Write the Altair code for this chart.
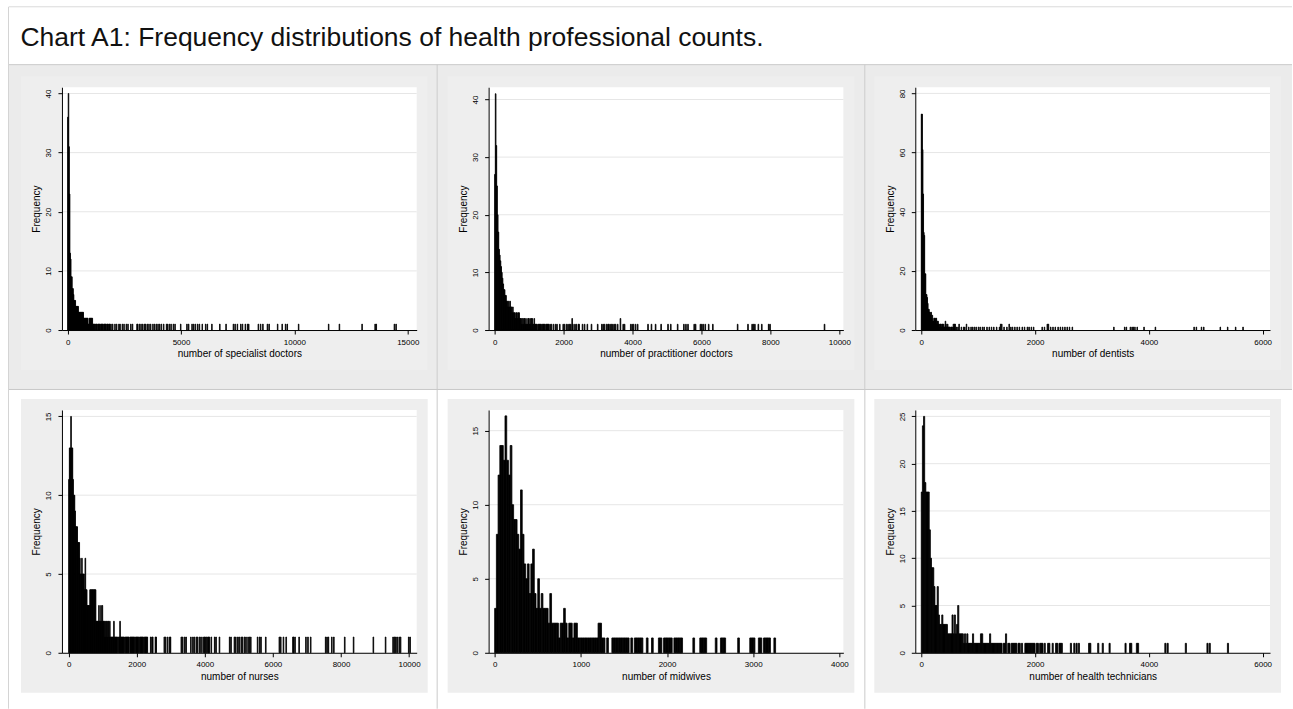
import altair as alt
import pandas as pd

FONT = "Liberation Sans"
TITLE = "Chart A1: Frequency distributions of health professional counts."

# ---------------- data ----------------
# specialist doctors: bins of 25
SPEC_TITLE = "number of specialist doctors"
SPEC_BIN = 25
SPEC_HEAD = [36, 40, 31, 23, 13, 12, 9, 9, 7, 7, 6, 5, 5, 5, 4, 4, 4, 4, 4, 3,
             3, 3, 3, 3, 3, 3, 3, 3, 2, 2, 2, 2, 2, 2, 2, 2, 1, 1, 2, 2,
             2, 2, 2, 2, 1, 1, 1, 1, 0, 1, 1, 1, 0, 1, 1, 1, 1, 0, 1, 1,
             1, 1, 1, 0, 1, 1, 1, 1, 0, 1, 1, 1, 0, 1, 1]
SPEC_TAIL_X = [1900, 1975, 2075, 2150, 2250, 2300, 2400, 2475, 2575, 2650, 2775, 2850,
               3050, 3075, 3150, 3225, 3300, 3375, 3425, 3500, 3575, 3650, 3750, 3825,
               3900, 3975, 4050, 4125, 4225, 4350, 4400, 4475, 4550, 4650, 4725, 4975,
               5250, 5325, 5475, 5550, 5625, 5725, 5800, 5925, 6075, 6150, 6350, 6700,
               6975, 7300, 7375, 7475, 7625, 7700, 7825, 7925, 7975, 8400, 8500, 8600,
               8800, 8875, 9250, 9450, 9600, 9675, 10175, 11500, 11975, 12975, 13550,
               13600, 14400, 14475]
SPEC_TAIL_N = [1] * len(SPEC_TAIL_X)

# practitioner doctors: bins of 20
PRAC_TITLE = "number of practitioner doctors"
PRAC_BIN = 20
PRAC_HEAD = [27, 41, 32, 25, 20, 17, 14, 13, 12, 11, 10, 9, 8, 7, 7, 6, 6, 5, 5, 4,
             5, 4, 5, 4, 4, 3, 4, 3, 3, 3, 2, 3, 3, 2, 3, 3, 2, 2, 2, 1,
             2, 1, 2, 2, 1, 2, 1, 1, 2, 2, 1, 2, 1, 2, 2, 1, 1, 2, 1, 1,
             1, 1, 0, 1, 1, 1, 1, 1, 0, 1, 1, 1, 1, 0, 1, 1, 1, 1, 1, 0]
PRAC_TAIL_X = [1600, 1640, 1700, 1760, 1800, 1880, 1980, 2020, 2080, 2120, 2160, 2200,
               2240, 2260, 2320, 2360, 2420, 2440, 2540, 2600, 2680, 2800, 2980, 3100,
               3140, 3180, 3240, 3280, 3300, 3340, 3380, 3420, 3460, 3500, 3560, 3640,
               3720, 3760, 3940, 3980, 4020, 4080, 4140, 4440, 4540, 4660, 4820, 5020,
               5100, 5300, 5480, 5540, 5600, 5780, 5820, 5960, 6000, 6040, 6100, 6200,
               6320, 7040, 7340, 7460, 7500, 7540, 7640, 7740, 7940, 7980, 9560]
PRAC_TAIL_N = [1] * len(PRAC_TAIL_X)
PRAC_TAIL_N[PRAC_TAIL_X.index(2240)] = 2
PRAC_TAIL_N[PRAC_TAIL_X.index(3640)] = 2

# dentists: bins of 10
DENT_TITLE = "number of dentists"
DENT_BIN = 10
DENT_HEAD = [73, 73, 61, 46, 33, 32, 19, 19, 12, 12, 11, 9, 7, 7, 6, 6, 5, 6, 4, 5,
             3, 3, 4, 4, 3, 4, 4, 2, 3, 3, 2, 2, 1, 2, 2, 1, 2, 2, 1, 2,
             1, 1, 3, 2, 1, 1, 2, 1, 1, 1, 1, 0, 1, 1, 0, 1, 2, 1, 2, 2]
DENT_TAIL_X = [610, 640, 660, 700, 740, 760, 790, 830, 870, 900, 930, 960, 1000, 1030,
               1070, 1100, 1150, 1190, 1230, 1270, 1320, 1370, 1390, 1410, 1450, 1500,
               1540, 1570, 1600, 1640, 1680, 1720, 1770, 1810, 1860, 1890, 1930, 1970,
               2120, 2160, 2210, 2230, 2270, 2310, 2350, 2400, 2440, 2480, 2520, 2560,
               2600, 2650, 3380, 3570, 3600, 3670, 3700, 3720, 3750, 3790, 3910, 4110,
               4790, 4830, 4920, 4960, 5250, 5380, 5520, 5650]
DENT_TAIL_N = [1] * len(DENT_TAIL_X)
for v in (660, 790, 1390, 1410, 1540, 2210, 2230):
    DENT_TAIL_N[DENT_TAIL_X.index(v)] = 2

# nurses: bins of 20
NURS_TITLE = "number of nurses"
NURS_BIN = 20
NURS_HEAD = [11, 13, 13, 15, 13, 13, 11, 10, 10, 9, 8, 8, 8, 7, 7, 7, 6, 5, 5, 6,
             5, 5, 5, 4, 6, 4, 4, 3, 3, 3, 3, 4, 4, 4, 4, 4, 4, 4, 4, 4,
             2, 2, 2, 2, 3, 2, 2, 3, 2, 3, 2, 2, 2, 1, 2, 2, 1, 2, 2, 1,
             2, 1, 1, 1, 1, 1, 2, 1, 1, 1, 1, 1, 0, 1, 1, 2, 1, 1, 1, 1,
             1, 1, 0, 1, 1, 1, 1, 1, 1, 0, 1, 1, 1, 1, 1, 1, 1, 0, 1, 1,
             1, 1, 1, 0, 1, 1, 1, 1, 1, 1, 0, 1, 1, 1, 1, 1]
NURS_TAIL_X = [2400, 2440, 2460, 2540, 2560, 2800, 2840, 2900, 2960, 2980, 3300, 3340,
               3400, 3440, 3580, 3640, 3680, 3740, 3780, 3840, 3880, 3940, 3980, 4000,
               4040, 4080, 4100, 4120, 4180, 4280, 4320, 4420, 4720, 4760, 4860, 4900,
               4960, 5000, 5060, 5100, 5160, 5200, 5260, 5300, 5340, 5540, 5600, 5640,
               5780, 6180, 6220, 6300, 6380, 6580, 6600, 6640, 6760, 6960, 7020, 7100,
               7540, 7580, 7620, 7720, 7780, 8100, 8360, 8940, 9300, 9520, 9560, 9600,
               9640, 9700, 9740, 9980, 10020]
NURS_TAIL_N = [1] * len(NURS_TAIL_X)

# midwives: bins of 20
MIDW_TITLE = "number of midwives"
MIDW_BIN = 20
MIDW_HEAD = [3, 8, 12, 14, 14, 13, 16, 13, 12, 14, 10, 9, 9, 8, 7, 11, 8, 6, 5, 6,
             4, 6, 7, 4, 3, 5, 3, 4, 3, 3, 3, 2, 4, 2, 2, 2, 2, 1, 2, 2,
             3, 2, 1, 2, 2, 1, 2, 2, 1, 1, 1, 1, 1, 1, 1, 1, 1, 1, 1, 1,
             2, 2, 1, 1]
MIDW_TAIL_X = [1300, 1360, 1380, 1400, 1420, 1440, 1460, 1480, 1500, 1520, 1540, 1580,
               1620, 1640, 1660, 1680, 1700, 1760, 1820, 1900, 1920, 1960, 1980, 2000,
               2020, 2040, 2080, 2100, 2120, 2140, 2160, 2300, 2380, 2400, 2420, 2440,
               2560, 2620, 2640, 2660, 2820, 2960, 2980, 3000, 3060, 3080, 3120, 3140,
               3160, 3180, 3240]
MIDW_TAIL_N = [1] * len(MIDW_TAIL_X)

# health technicians: bins of 20
TECH_TITLE = "number of health technicians"
TECH_BIN = 20
TECH_HEAD = [17, 24, 25, 18, 17, 17, 17, 13, 10, 9, 9, 7, 5, 5, 7, 4, 3, 3, 4, 3,
             3, 3, 3, 2, 2, 2, 2, 4, 2, 4, 2, 3, 5, 2, 2, 2, 2, 1, 2, 1,
             2, 1, 1, 1, 1, 2, 1, 1, 1, 1, 1, 1, 2, 2, 1, 1, 1, 1, 1, 1,
             2, 1, 1, 1, 1, 1, 1, 1, 1, 1]
TECH_TAIL_X = [1400, 1440, 1460, 1480, 1520, 1540, 1580, 1600, 1620, 1640, 1660, 1700,
               1720, 1760, 1820, 1840, 1860, 1880, 1900, 1920, 1940, 1960, 1980, 2020,
               2040, 2080, 2100, 2120, 2160, 2220, 2240, 2300, 2360, 2380, 2420, 2440,
               2460, 2620, 2680, 2720, 2760, 2940, 2960, 3100, 3180, 3300, 3580, 3660,
               3680, 3780, 3800, 4280, 4320, 4640, 5020, 5060, 5380]
TECH_TAIL_N = [1] * len(TECH_TAIL_X)
TECH_TAIL_N[TECH_TAIL_X.index(1480)] = 2

# axis set-up per panel
X_DOMAINS = [[-251, 15395], [-174, 10116], [-105, 6129], [-197, 10223], [-70, 4046], [-105, 6129]]
Y_DOMAINS = [[0, 41.06], [0, 42.13], [0, 82.1], [0, 15.41], [0, 16.4], [0, 25.68]]
X_TICKS = [[0, 5000, 10000, 15000], [0, 2000, 4000, 6000, 8000, 10000], [0, 2000, 4000, 6000],
           [0, 2000, 4000, 6000, 8000, 10000], [0, 1000, 2000, 3000, 4000], [0, 2000, 4000, 6000]]
Y_TICKS = [[0, 10, 20, 30, 40], [0, 10, 20, 30, 40], [0, 20, 40, 60, 80],
           [0, 5, 10, 15], [0, 5, 10, 15], [0, 5, 10, 15, 20, 25]]

PANELS = [
    (SPEC_TITLE, SPEC_BIN, SPEC_HEAD, SPEC_TAIL_X, SPEC_TAIL_N),
    (PRAC_TITLE, PRAC_BIN, PRAC_HEAD, PRAC_TAIL_X, PRAC_TAIL_N),
    (DENT_TITLE, DENT_BIN, DENT_HEAD, DENT_TAIL_X, DENT_TAIL_N),
    (NURS_TITLE, NURS_BIN, NURS_HEAD, NURS_TAIL_X, NURS_TAIL_N),
    (MIDW_TITLE, MIDW_BIN, MIDW_HEAD, MIDW_TAIL_X, MIDW_TAIL_N),
    (TECH_TITLE, TECH_BIN, TECH_HEAD, TECH_TAIL_X, TECH_TAIL_N),
]

# ---------------- layout / style ----------------
PW, PH = 355, 243
COL_SPACING, ROW_SPACING = 72, 80
LEFT0, TOP0 = 62, 87
PAGE_W, PAGE_H = 1293, 709
CELL_X = [9, 438, 866, 1293]
HEAD_LINE_Y = 64.5
ROW_LINE_Y = 389.5
CELL_GREY = "#ebebeb"
BOX_GREY = "#eeeeee"
GRID = "#e6e6e6"


def deco_rect(x, x2, y, y2, color):
    return alt.Chart(alt.Data(values=[{"k": 1}])).mark_rect(color=color).encode(
        x=alt.value(x), x2=alt.value(x2), y=alt.value(y), y2=alt.value(y2))


def hline(x, x2, y, color):
    return alt.Chart(alt.Data(values=[{"k": 1}])).mark_rule(color=color, strokeWidth=1).encode(
        x=alt.value(x), x2=alt.value(x2), y=alt.value(y))


def vline(x, y, y2, color):
    return alt.Chart(alt.Data(values=[{"k": 1}])).mark_rule(color=color, strokeWidth=1).encode(
        x=alt.value(x), y=alt.value(y), y2=alt.value(y2))


def make_panel(i):
    title, w, head, tx, tn = PANELS[i]
    row, col = divmod(i, 3)
    ox = LEFT0 + col * (PW + COL_SPACING)
    oy = TOP0 + row * (PH + ROW_SPACING)

    starts = [k * w for k in range(len(head))] + list(tx)
    counts = list(head) + list(tn)
    df = pd.DataFrame({"start": starts, "n": counts})
    df = df[df["n"] > 0].copy()
    df["end"] = df["start"] + w

    xscale = alt.Scale(domain=X_DOMAINS[i], nice=False, zero=False)
    yscale = alt.Scale(domain=Y_DOMAINS[i], nice=False, zero=False)
    xaxis = alt.Axis(values=X_TICKS[i], format="d", grid=False, zindex=1,
                     domainColor="black", domainWidth=1, tickColor="black", tickSize=4, tickWidth=1,
                     labelFont=FONT, labelFontSize=8, labelColor="black", labelPadding=10,
                     labelBaseline="alphabetic", labelFlush=False, labelOverlap=False,
                     title=title, titleFont=FONT, titleFontSize=10, titleFontWeight="normal",
                     titleColor="black", titleX=PW / 2, titleY=26.5, titleAlign="center",
                     titleBaseline="alphabetic")
    yaxis = alt.Axis(values=Y_TICKS[i], format="d", grid=False, zindex=1,
                     domainColor="black", domainWidth=1, tickColor="black", tickSize=4, tickWidth=1,
                     labelFont=FONT, labelFontSize=8, labelColor="black", labelPadding=7,
                     labelAngle=270, labelAlign="center", labelBaseline="alphabetic",
                     labelFlush=False, labelOverlap=False,
                     title="Frequency", titleFont=FONT, titleFontSize=10, titleFontWeight="normal",
                     titleColor="black", titleAngle=270, titleAlign="center",
                     titleBaseline="alphabetic", titleX=-22, titleY=PH / 2)

    layers = []
    if i == 0:
        layers.append(deco_rect(-ox, PAGE_W - ox, -oy, PAGE_H - oy, "white"))
        layers.append(
            alt.Chart(alt.Data(values=[{"t": TITLE}])).mark_text(
                align="left", baseline="alphabetic", font=FONT, fontSize=26.5, color="#111111"
            ).encode(x=alt.value(20.5 - ox), y=alt.value(46 - oy), text="t:N"))
    if row == 0:
        layers.append(deco_rect(CELL_X[col] - ox, CELL_X[col + 1] - ox,
                                HEAD_LINE_Y + 0.5 - oy, ROW_LINE_Y - 0.5 - oy, CELL_GREY))
    layers.append(deco_rect(-41, PW + 11, -11, PH + 40, BOX_GREY))
    layers.append(deco_rect(0, PW, 0, PH, "white"))

    grid = alt.Chart(pd.DataFrame({"t": Y_TICKS[i][1:]})).mark_rule(
        color=GRID, strokeWidth=1).encode(
        y=alt.Y("t:Q", scale=yscale, axis=yaxis), x=alt.value(0), x2=alt.value(PW))
    bars = alt.Chart(df).mark_rect(color="black", stroke="black", strokeWidth=0.8).encode(
        x=alt.X("start:Q", scale=xscale, axis=xaxis),
        x2="end:Q",
        y=alt.Y("n:Q", scale=yscale, axis=yaxis),
        y2=alt.datum(0))
    layers += [grid, bars]

    if i == 5:
        layers += [
            hline(9 - ox, PAGE_W - ox, 6.5 - oy, "#dadada"),
            vline(8.5 - ox, 6.5 - oy, PAGE_H - oy, "#d4d4d4"),
            hline(9 - ox, PAGE_W - ox, HEAD_LINE_Y - oy, "#c4c4c4"),
            hline(9 - ox, PAGE_W - ox, ROW_LINE_Y - oy, "#c8c8c8"),
            vline(437.5 - ox, HEAD_LINE_Y - oy, PAGE_H - oy, "#cacaca"),
            vline(865.5 - ox, HEAD_LINE_Y - oy, PAGE_H - oy, "#cacaca"),
        ]
    return alt.layer(*layers).properties(width=PW, height=PH)


chart = alt.concat(
    *[make_panel(i) for i in range(6)],
    columns=3,
    spacing=alt.RowColnumber(row=ROW_SPACING, column=COL_SPACING),
    bounds="flush",
).properties(
    padding=0,
    background="white",
    autosize=alt.AutoSizeParams(type="pad"),
).configure_view(stroke=None)

chart.save("out.html", embed_options={"renderer": "svg", "actions": False})
